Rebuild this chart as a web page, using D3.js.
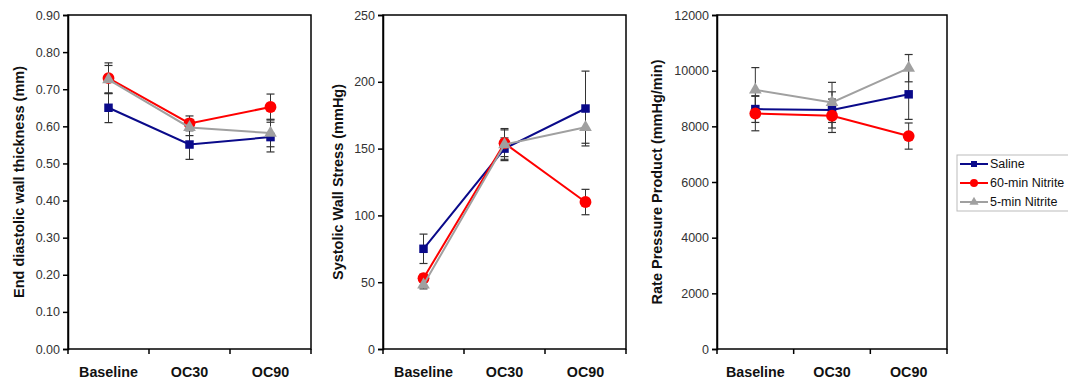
<!DOCTYPE html>
<html>
<head>
<meta charset="utf-8">
<script src="https://cdn.jsdelivr.net/npm/d3@7"></script>
<style>
  body { margin: 0; background: #fff; }
  svg { font-family: "Liberation Sans", Arial, sans-serif; }
</style>
</head>
<body>
<div id="chart"></div>
<script>
// categories and series
var categories = ["Baseline", "OC30", "OC90"];
var seriesNames = ["Saline", "60-min Nitrite", "5-min Nitrite"];

// end diastolic wall thickness (mm)
var edwtSaline = [0.650, 0.551, 0.571];
var edwtSalineErr = [0.040, 0.040, 0.040];
var edwt60 = [0.730, 0.608, 0.652];
var edwt60Err = [0.041, 0.020, 0.035];
var edwt5 = [0.726, 0.597, 0.582];
var edwt5Err = [0.038, 0.022, 0.037];

// systolic wall stress (mmHg)
var swsSaline = [75, 150, 180];
var swsSalineErr = [11, 8, 28];
var sws60 = [53, 154, 110];
var sws60Err = [3, 10, 9.5];
var sws5 = [48, 153, 166];
var sws5Err = [3, 12, 12];

// rate pressure product (mmHg/min)
var rppSaline = [8620, 8590, 9150];
var rppSalineErr = [480, 650, 900];
var rpp60 = [8460, 8380, 7650];
var rpp60Err = [620, 600, 470];
var rpp5 = [9310, 8860, 10090];
var rpp5Err = [800, 720, 490];

var ticks1 = [0, 0.1, 0.2, 0.3, 0.4, 0.5, 0.6, 0.7, 0.8, 0.9];
var ticks2 = [0, 50, 100, 150, 200, 250];
var ticks3 = [0, 2000, 4000, 6000, 8000, 10000, 12000];

var colors = ["#0a0a8a", "#ff0000", "#a0a0a0"];
var markers = [d3.symbolSquare, d3.symbolCircle, d3.symbolTriangle];
var markerSize = [72, 110, 70];
var legendSize = [36, 50, 36];

var panels = [
  { left: 68, right: 311, label: "End diastolic wall thickness (mm)", labelX: 19,
    max: 0.9, ticks: ticks1, fmt: d3.format(".2f"),
    vals: [edwtSaline, edwt60, edwt5], errs: [edwtSalineErr, edwt60Err, edwt5Err] },
  { left: 383, right: 626, label: "Systolic Wall Stress (mmHg)", labelX: 338,
    max: 250, ticks: ticks2, fmt: d3.format("d"),
    vals: [swsSaline, sws60, sws5], errs: [swsSalineErr, sws60Err, sws5Err] },
  { left: 717, right: 947, label: "Rate Pressure Product (mmHg/min)", labelX: 657,
    max: 12000, ticks: ticks3, fmt: d3.format("d"),
    vals: [rppSaline, rpp60, rpp5], errs: [rppSalineErr, rpp60Err, rpp5Err] }
];

var plotTop = 15, plotBottom = 349;

var svg = d3.select("#chart").append("svg")
    .attr("width", 1068)
    .attr("height", 384);

panels.forEach(function(p) {
    var x = d3.scaleBand().domain(categories).range([p.left, p.right]);
    var y = d3.scaleLinear().domain([0, p.max]).range([plotBottom, plotTop]);
    var g = svg.append("g");

    // frame
    g.append("rect")
      .attr("x", p.left).attr("y", plotTop)
      .attr("width", p.right - p.left).attr("height", plotBottom - plotTop)
      .attr("fill", "none").attr("stroke", "#000").attr("stroke-width", 1.5);

    // y axis
    var yAxis = g.append("g")
      .attr("transform", "translate(" + p.left + ",0)")
      .call(d3.axisLeft(y).tickValues(p.ticks).tickFormat(p.fmt).tickSize(5).tickPadding(3));
    yAxis.select(".domain").attr("stroke-width", 1.5);
    yAxis.selectAll(".tick line").attr("stroke-width", 1.5);
    yAxis.selectAll("text").attr("font-size", 12.5).attr("fill", "#333")
      .attr("font-family", "Liberation Sans, Arial, sans-serif");

    // x axis: ticks at band edges
    var edges = categories.map(function(c) { return x(c); }).concat([p.right]);
    g.selectAll(".xtick").data(edges).enter().append("line")
      .attr("x1", function(d) { return d; }).attr("x2", function(d) { return d; })
      .attr("y1", plotBottom).attr("y2", plotBottom + 5)
      .attr("stroke", "#000").attr("stroke-width", 1.5);
    g.selectAll(".xlab").data(categories).enter().append("text")
      .attr("x", function(d) { return x(d) + x.bandwidth() / 2; })
      .attr("y", 377)
      .attr("text-anchor", "middle")
      .attr("font-size", 14.3).attr("font-weight", "bold").attr("fill", "#111")
      .text(function(d) { return d; });

    // y label
    var cy = (plotTop + plotBottom) / 2;
    g.append("text")
      .attr("transform", "translate(" + p.labelX + "," + cy + ") rotate(-90)")
      .attr("text-anchor", "middle")
      .attr("dy", "0.35em")
      .attr("font-size", 14.5).attr("font-weight", "bold").attr("fill", "#111")
      .text(p.label);

    var cx = function(i) { return x(categories[i]) + x.bandwidth() / 2; };

    // error bars
    p.vals.forEach(function(vals, s) {
        var errs = p.errs[s];
        var eg = g.append("g");
        vals.forEach(function(v, i) {
            var e = errs[i];
            eg.append("line")
              .attr("x1", cx(i)).attr("x2", cx(i))
              .attr("y1", y(v - e)).attr("y2", y(v + e))
              .attr("stroke", "#333").attr("stroke-width", 1);
            [v - e, v + e].forEach(function(t) {
                eg.append("line")
                  .attr("x1", cx(i) - 4).attr("x2", cx(i) + 4)
                  .attr("y1", y(t)).attr("y2", y(t))
                  .attr("stroke", "#333").attr("stroke-width", 1.2);
            });
        });
    });

    // lines and markers
    var line = d3.line()
      .x(function(d, i) { return cx(i); })
      .y(function(d) { return y(d); });

    p.vals.forEach(function(vals, s) {
        g.append("path")
          .datum(vals)
          .attr("d", line)
          .attr("fill", "none")
          .attr("stroke", colors[s])
          .attr("stroke-width", 2);
        g.selectAll(".m" + s).data(vals).enter().append("path")
          .attr("d", d3.symbol().type(markers[s]).size(markerSize[s]))
          .attr("transform", function(d, i) { return "translate(" + cx(i) + "," + y(d) + ")"; })
          .attr("fill", colors[s]);
    });
});

// legend
var legend = svg.append("g");
legend.append("rect")
  .attr("x", 957).attr("y", 155)
  .attr("width", 120).attr("height", 56)
  .attr("fill", "#fff").attr("stroke", "#bbb").attr("stroke-width", 1);

seriesNames.forEach(function(name, s) {
    var ly = 164 + s * 19;
    legend.append("line")
      .attr("x1", 960).attr("x2", 988)
      .attr("y1", ly).attr("y2", ly)
      .attr("stroke", colors[s]).attr("stroke-width", 2);
    legend.append("path")
      .attr("d", d3.symbol().type(markers[s]).size(legendSize[s]))
      .attr("transform", "translate(974," + ly + ")")
      .attr("fill", colors[s]);
    legend.append("text")
      .attr("x", 990).attr("y", ly)
      .attr("dy", "0.35em")
      .attr("font-size", 12.5).attr("fill", "#111")
      .text(name);
});
</script>
</body>
</html>
